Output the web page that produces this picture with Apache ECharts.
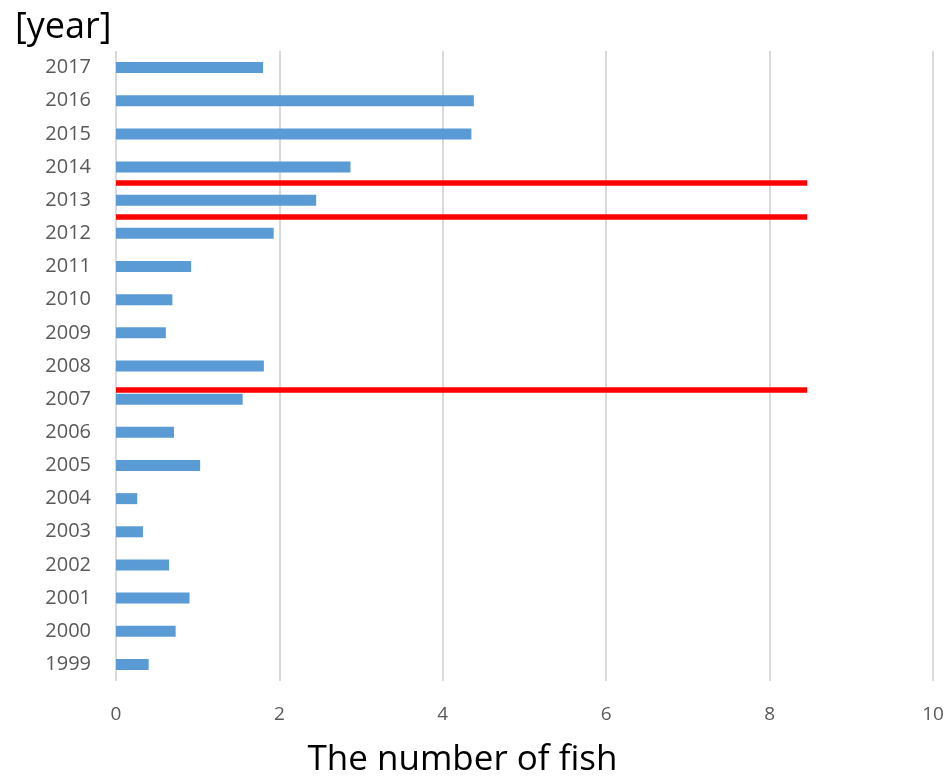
<!DOCTYPE html>
<html>
<head>
<meta charset="utf-8">
<script src="https://cdn.jsdelivr.net/npm/echarts@6/dist/echarts.min.js"></script>
<style>
  html, body { margin: 0; padding: 0; background: #fff; }
  #chart { width: 949px; height: 776px; }
</style>
</head>
<body>
<div id="chart"></div>
<script>
// Yearly fish counts, 1999 at the bottom up to 2017 at the top
const years = ['1999','2000','2001','2002','2003','2004','2005','2006','2007','2008',
               '2009','2010','2011','2012','2013','2014','2015','2016','2017'];
const fishCounts = [0.40, 0.73, 0.90, 0.65, 0.33, 0.26, 1.03, 0.71, 1.55, 1.81,
                    0.61, 0.69, 0.92, 1.93, 2.45, 2.87, 4.35, 4.38, 1.80];
const xTicks = [0, 2, 4, 6, 8, 10];

// Red divider lines: position in category-index units and their right end on the value scale
const dividerPositions = [14.53, 13.5, 8.28];
const dividerEnd = 8.46;

const chart = echarts.init(document.getElementById('chart'));

const dividerLines = dividerPositions.map(p => [
  { coord: [0, p] },
  { coord: [dividerEnd, p] }
]);

chart.setOption({
  animation: false,
  backgroundColor: '#ffffff',
  title: {
    text: '[year]',
    left: 10,
    top: 5,
    textStyle: { fontFamily: 'Open Sans', fontSize: 36, fontWeight: 'normal', color: '#000' }
  },
  grid: {
    left: 116, right: 16, top: 51, bottom: 95,
    containLabel: false,
    outerBoundsMode: 'none'
  },
  xAxis: {
    type: 'value',
    min: xTicks[0],
    max: xTicks[xTicks.length - 1],
    interval: 2,
    name: 'The number of fish',
    nameLocation: 'middle',
    nameGap: 62,
    nameTextStyle: {
      fontFamily: 'Open Sans', fontSize: 35, color: '#000',
      padding: [0, 124, 0, 0]
    },
    axisLine: { show: false },
    axisTick: { show: false },
    axisLabel: { fontFamily: 'Open Sans', fontSize: 19, color: '#595959', margin: 24 },
    splitLine: { lineStyle: { color: '#D9D9D9', width: 2 } }
  },
  yAxis: [{
    type: 'category',
    data: years,
    axisLine: { show: false },
    axisTick: { show: false },
    axisLabel: { fontFamily: 'Open Sans', fontSize: 20, color: '#595959', margin: 25 }
  }, {
    type: 'value',
    min: -0.5,
    max: years.length - 0.5,
    show: false
  }],
  series: [{
    type: 'bar',
    data: fishCounts,
    barWidth: 11,
    itemStyle: { color: '#5B9BD5' }
  }, {
    type: 'line',
    yAxisIndex: 1,
    data: [],
    silent: true,
    markLine: {
      symbol: ['none', 'none'],
      silent: true,
      label: { show: false },
      lineStyle: { color: '#FF0000', width: 5.5, type: 'solid' },
      data: dividerLines
    }
  }]
});
</script>
</body>
</html>
